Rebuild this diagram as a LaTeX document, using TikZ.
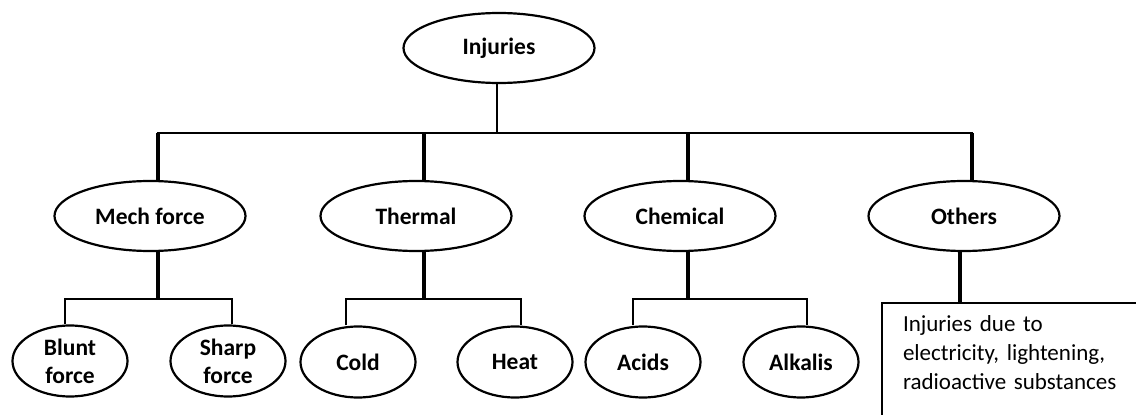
\documentclass[tikz,border=0pt]{standalone}
\usepackage{fontspec}
\setmainfont{Carlito}
\usetikzlibrary{shapes.geometric}
\tikzstyle{category}=[ellipse,draw=black,line width=2.2pt,inner sep=0pt,minimum width=191pt,minimum height=70pt,font=\fontsize{23.5}{28}\selectfont\bfseries]
\tikzstyle{leaf}=[category,minimum width=115pt,minimum height=71pt,align=center]
\tikzstyle{note}=[rectangle,draw=black,line width=2pt,anchor=north west,inner xsep=21pt,inner ysep=13pt,text width=300pt,text depth=120pt,align=left,font=\fontsize{23}{29}\selectfont]
\tikzstyle{stem}=[draw=black,line width=3.2pt]
\tikzstyle{link}=[draw=black,line width=2pt]

\begin{document}
\begin{tikzpicture}[x=1pt,y=-1pt]
    \useasboundingbox (0,0) rectangle (1136,415);
    \clip (0,0) rectangle (1136,415);
    \def\stemshift{8pt}

    \node[category] (injuries) at (499,48) {Injuries};
    \node[category] (mech) at (150,216) {Mech force};
    \node[category] (thermal) at (416,216) {Thermal};
    \node[category] (chemical) at (680,216) {Chemical};
    \node[category] (others) at (964,216) {Others};

    \node[leaf] (blunt) at (70,361) {Blunt\\force};
    \node[leaf] (sharp) at (228,361) {Sharp\\force};
    \node[leaf] (cold) at (358,362) {Cold};
    \node[leaf] (heat) at (515,362) {Heat};
    \node[leaf] (acids) at (643,362) {Acids};
    \node[leaf] (alkalis) at (801,362) {Alkalis};

    \node[note] (effects) at (881,302) {Injuries due to\\electricity, lightening,\\radioactive substances};

    \coordinate (mainbar) at (0,133);
    \coordinate (subbar) at (0,299);

    % top level
    \draw[link] ([xshift=-2pt]injuries.south) -- ([xshift=-2pt]injuries.south |- mainbar);
    \draw[link] ([xshift=7pt]mech.north |- mainbar) -- ([xshift=9pt]others.north |- mainbar);
    \foreach \cat in {mech,thermal,chemical,others}
        \draw[stem] ([xshift=\stemshift]\cat.north) -- ([xshift=\stemshift]\cat.north |- mainbar);

    % second level
    \foreach \cat/\a/\da/\b/\db in {mech/blunt/-5pt/sharp/4pt, thermal/cold/-12pt/heat/6pt, chemical/acids/-10pt/alkalis/6pt} {
        \draw[stem] ([xshift=\stemshift]\cat.south) -- ([xshift=\stemshift]\cat.south |- subbar);
        \draw[link] ([xshift=\da]\a.north) |- ([xshift=\db]\b.north |- subbar) -- ([xshift=\db]\b.north);
    }
    \draw[stem] ([xshift=-4pt]others.south) -- ([xshift=-4pt]others.south |- effects.north);
\end{tikzpicture}
\end{document}
